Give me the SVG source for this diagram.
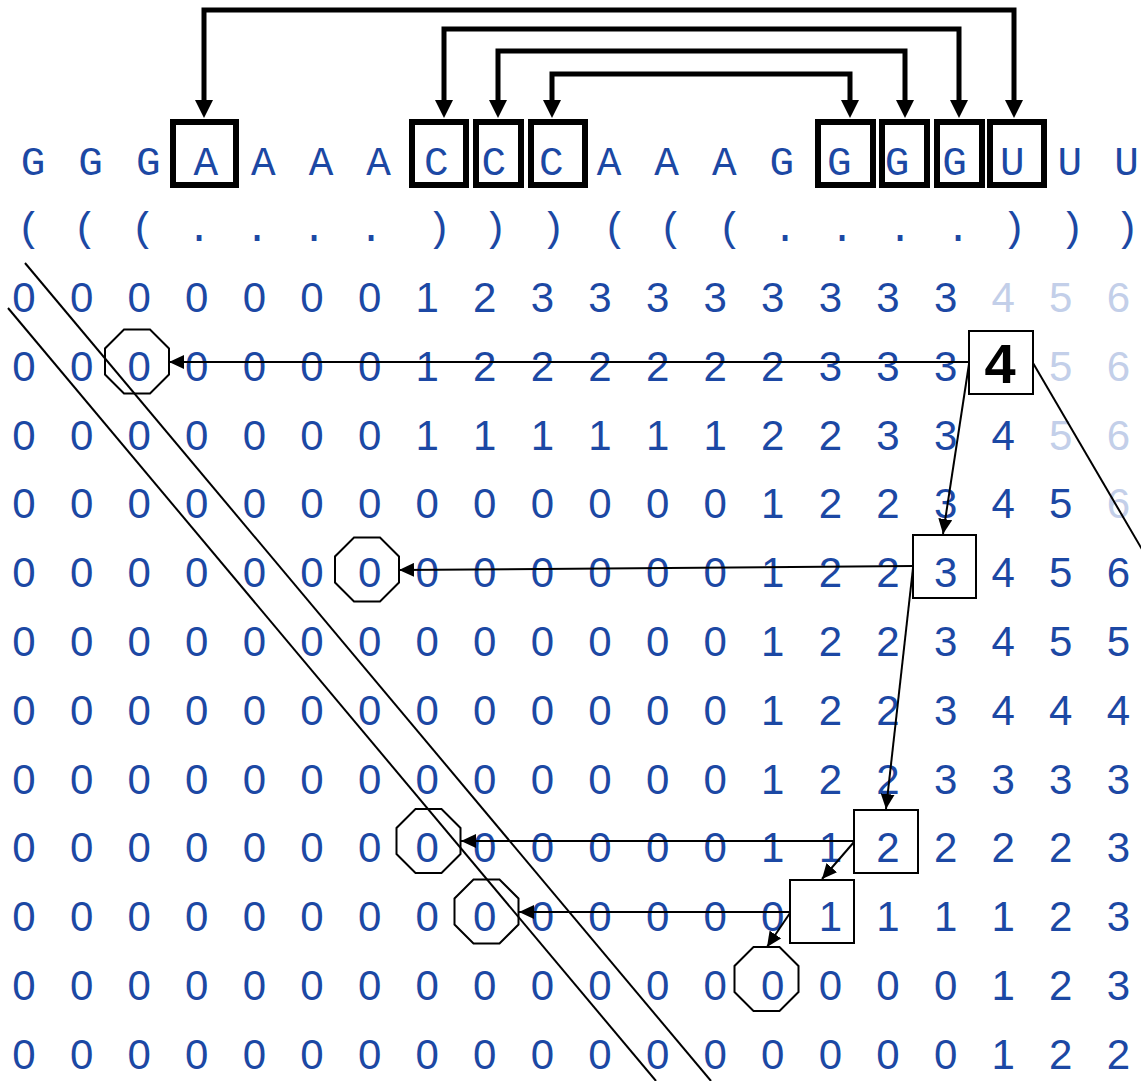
<svg xmlns="http://www.w3.org/2000/svg" xmlns:xlink="http://www.w3.org/1999/xlink" width="1141" height="1081" viewBox="0 0 1141 1081">
<style>
  .seq { font-family: "Liberation Mono", "DejaVu Sans Mono", monospace; font-size: 41px; fill: #1c48a4; text-anchor: middle; }
  .num { font-family: "Liberation Sans", Arial, sans-serif; font-size: 42px; fill: #1c48a4; text-anchor: middle; }
  .lite { fill: #c3cfe9; }
  .big { font-family: "Liberation Sans", Arial, sans-serif; font-size: 56px; font-weight: bold; fill: #000; text-anchor: middle; }
  .pairbox { fill: none; stroke: #000; stroke-width: 6; }
  .thick { fill: none; stroke: #000; stroke-width: 5; stroke-linejoin: miter; marker-start: url(#bigArrow); marker-end: url(#bigArrow); }
  .cell { fill: none; stroke: #000; stroke-width: 2; }
  .thin { fill: none; stroke: #000; stroke-width: 2; }
  .arr { marker-end: url(#smallArrow); }
</style>
<defs>
  <marker id="bigArrow" markerUnits="userSpaceOnUse" markerWidth="18" markerHeight="18" refX="0" refY="9" orient="auto-start-reverse" viewBox="0 0 18 18">
    <path d="M0,0 L18,9 L0,18 Z" fill="#000"/>
  </marker>
  <marker id="smallArrow" markerUnits="userSpaceOnUse" markerWidth="15" markerHeight="14" refX="15" refY="7" orient="auto" viewBox="0 0 15 14">
    <path d="M0,0 L15,7 L0,14 Z" fill="#000"/>
  </marker>
  <polygon id="oct" points="-13,-32 13,-32 32,-13 32,13 13,32 -13,32 -32,13 -32,-13"/>
</defs>
<rect width="1141" height="1081" fill="#fff"/>

<g id="sequence">
  <text class="seq" x="33 90.6 148.2 205.8 263.4 321 378.6 436.2 493.8 551.4 609 666.6 724.2 781.8 839.4 897 954.6 1012.2 1069.8 1126.5" y="175">GGGAAAACCCAAAGGGGUUU</text>
</g>
<g id="structure">
  <text class="seq" x="29 85 143 199 257 314 371 439 495 553 615 671 730 785 842 900 958 1014 1072 1127" y="241">(((....)))(((....)))</text>
</g>

<g id="pair-boxes">
  <rect id="box-A3" class="pairbox" x="173" y="122" width="63" height="63"/>
  <rect id="box-C7" class="pairbox" x="412" y="122" width="54" height="63"/>
  <rect id="box-C8" class="pairbox" x="476" y="122" width="45" height="63"/>
  <rect id="box-C9" class="pairbox" x="531" y="122" width="54" height="63"/>
  <rect id="box-G14" class="pairbox" x="818" y="122" width="55" height="63"/>
  <rect id="box-G15" class="pairbox" x="882" y="122" width="45" height="63"/>
  <rect id="box-G16" class="pairbox" x="937" y="122" width="45" height="63"/>
  <rect id="box-U17" class="pairbox" x="990" y="122" width="54" height="63"/>
</g>

<g id="matrix">
  <text class="num" y="312" x="24 81.6 139.2 196.8 254.4 312 369.6 427.2 484.8 542.4 600 657.6 715.2 772.8 830.4 888 945.6">00000001233333333<tspan class="lite" x="1003.2 1060.8 1118.4">456</tspan></text>
  <text class="num" y="380.8" x="24 81.6 139.2 196.8 254.4 312 369.6 427.2 484.8 542.4 600 657.6 715.2 772.8 830.4 888 945.6">00000001222222333<tspan class="lite" x="1060.8 1118.4">56</tspan></text>
  <text class="num" y="449.6" x="24 81.6 139.2 196.8 254.4 312 369.6 427.2 484.8 542.4 600 657.6 715.2 772.8 830.4 888 945.6 1003.2">000000011111122334<tspan class="lite" x="1060.8 1118.4">56</tspan></text>
  <text class="num" y="518.4" x="24 81.6 139.2 196.8 254.4 312 369.6 427.2 484.8 542.4 600 657.6 715.2 772.8 830.4 888 945.6 1003.2 1060.8">0000000000000122345<tspan class="lite" x="1118.4">6</tspan></text>
  <text class="num" y="587.2" x="24 81.6 139.2 196.8 254.4 312 369.6 427.2 484.8 542.4 600 657.6 715.2 772.8 830.4 888 945.6 1003.2 1060.8 1118.4">00000000000001223456</text>
  <text class="num" y="656" x="24 81.6 139.2 196.8 254.4 312 369.6 427.2 484.8 542.4 600 657.6 715.2 772.8 830.4 888 945.6 1003.2 1060.8 1118.4">00000000000001223455</text>
  <text class="num" y="724.8" x="24 81.6 139.2 196.8 254.4 312 369.6 427.2 484.8 542.4 600 657.6 715.2 772.8 830.4 888 945.6 1003.2 1060.8 1118.4">00000000000001223444</text>
  <text class="num" y="793.6" x="24 81.6 139.2 196.8 254.4 312 369.6 427.2 484.8 542.4 600 657.6 715.2 772.8 830.4 888 945.6 1003.2 1060.8 1118.4">00000000000001223333</text>
  <text class="num" y="862.4" x="24 81.6 139.2 196.8 254.4 312 369.6 427.2 484.8 542.4 600 657.6 715.2 772.8 830.4 888 945.6 1003.2 1060.8 1118.4">00000000000001122223</text>
  <text class="num" y="931.2" x="24 81.6 139.2 196.8 254.4 312 369.6 427.2 484.8 542.4 600 657.6 715.2 772.8 830.4 888 945.6 1003.2 1060.8 1118.4">00000000000000111123</text>
  <text class="num" y="1000" x="24 81.6 139.2 196.8 254.4 312 369.6 427.2 484.8 542.4 600 657.6 715.2 772.8 830.4 888 945.6 1003.2 1060.8 1118.4">00000000000000000123</text>
  <text class="num" y="1068.8" x="24 81.6 139.2 196.8 254.4 312 369.6 427.2 484.8 542.4 600 657.6 715.2 772.8 830.4 888 945.6 1003.2 1060.8 1118.4">00000000000000000122</text>
</g>

<g id="node-4">
  <rect class="cell" x="969" y="331" width="64" height="63" fill="#fff"/>
  <text class="big" x="1000" y="383">4</text>
</g>
<g id="node-3">
  <rect class="cell" x="913" y="535" width="63" height="63"/>
</g>
<g id="node-2">
  <rect class="cell" x="854" y="810" width="64" height="63"/>
</g>
<g id="node-1">
  <rect class="cell" x="790" y="880" width="64" height="63"/>
</g>
<g id="oct-r1c2"><use xlink:href="#oct" href="#oct" class="cell" x="137" y="361.5"/></g>
<g id="oct-r4c6"><use xlink:href="#oct" href="#oct" class="cell" x="367" y="569.5"/></g>
<g id="oct-r8c7"><use xlink:href="#oct" href="#oct" class="cell" x="428.5" y="841"/></g>
<g id="oct-r9c8"><use xlink:href="#oct" href="#oct" class="cell" x="486.5" y="911.5"/></g>
<g id="oct-r10c13"><use xlink:href="#oct" href="#oct" class="cell" x="766.5" y="979"/></g>

<g id="connectors">
  <path class="thick" d="M204,100 V10 H1014 V100"/>
  <path class="thick" d="M444,100 V29 H959 V100"/>
  <path class="thick" d="M498,100 V51 H905 V100"/>
  <path class="thick" d="M552,100 V74 H850 V100"/>

  <line class="thin arr" x1="969" y1="362" x2="169" y2="362"/>
  <line class="thin arr" x1="969" y1="364" x2="943" y2="534"/>
  <line class="thin arr" x1="913" y1="566" x2="399" y2="570"/>
  <line class="thin arr" x1="913" y1="568" x2="886" y2="809"/>
  <line class="thin arr" x1="854" y1="841" x2="461" y2="841"/>
  <line class="thin arr" x1="854" y1="842" x2="822" y2="879"/>
  <line class="thin arr" x1="790" y1="912" x2="519" y2="912"/>
  <line class="thin arr" x1="790" y1="913" x2="767" y2="947"/>

  <line class="thin" x1="25" y1="263" x2="711" y2="1081"/>
  <line class="thin" x1="8" y1="308" x2="656" y2="1081"/>
  <line class="thin" x1="1033" y1="363" x2="1150" y2="563"/>
</g>
</svg>
